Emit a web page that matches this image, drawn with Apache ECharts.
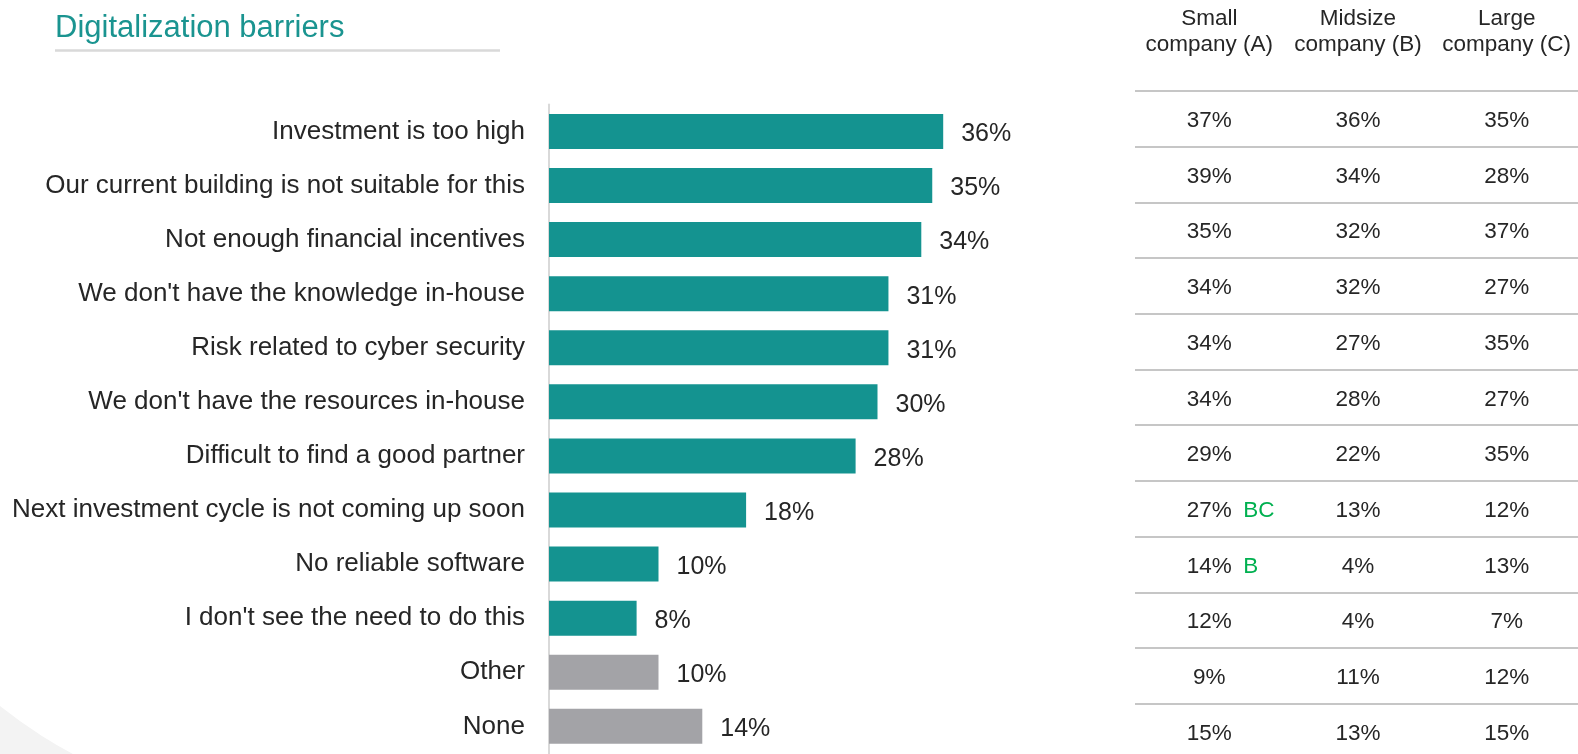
<!DOCTYPE html>
<html>
<head>
<meta charset="utf-8">
<script src="https://cdn.jsdelivr.net/npm/echarts@6/dist/echarts.min.js"></script>
<style>
  html, body { margin: 0; padding: 0; background: #ffffff; }
  #chart { width: 1578px; height: 754px; }
</style>
</head>
<body>
<div id="chart"></div>
<script>
// ---- Data ----
const chartTitle = 'Digitalization barriers';
const categories = [
  'Investment is too high',
  'Our current building is not suitable for this',
  'Not enough financial incentives',
  "We don't have the knowledge in-house",
  'Risk related to cyber security',
  "We don't have the resources in-house",
  'Difficult to find a good partner',
  'Next investment cycle is not coming up soon',
  'No reliable software',
  "I don't see the need to do this",
  'Other',
  'None'
];
const totalValues = [36, 35, 34, 31, 31, 30, 28, 18, 10, 8, 10, 14];
const greyCategories = ['Other', 'None'];
const columnHeaders = ['Small\ncompany (A)', 'Midsize\ncompany (B)', 'Large\ncompany (C)'];
const smallCompany = [37, 39, 35, 34, 34, 34, 29, 27, 14, 12, 9, 15];
const midsizeCompany = [36, 34, 32, 32, 27, 28, 22, 13, 4, 4, 11, 13];
const largeCompany = [35, 28, 37, 27, 35, 27, 35, 12, 13, 7, 12, 15];
const smallAnnotations = ['', '', '', '', '', '', '', 'BC', 'B', '', '', ''];

// ---- Build ----
const FONT = "'Liberation Sans', Arial, sans-serif";
const TEAL = '#149390';
const GREY = '#a3a3a7';
const TEXT = '#262626';

const columns = [smallCompany, midsizeCompany, largeCompany];
const tableData = [];
columns.forEach((col, ci) => col.forEach((v, ri) => tableData.push([ci, ri, v])));
const annotationData = [];
smallAnnotations.forEach((a, ri) => { if (a) annotationData.push([0, ri, a]); });

const chart = echarts.init(document.getElementById('chart'), null, { renderer: 'canvas' });

const option = {
  backgroundColor: '#ffffff',
  animation: false,
  textStyle: { fontFamily: FONT },
  title: {
    text: chartTitle,
    left: 55,
    top: 13,
    padding: 0,
    textStyle: { fontFamily: FONT, fontSize: 31, fontWeight: 'normal', color: '#1a9490' }
  },
  graphic: [
    {
      type: 'sector',
      silent: true,
      z: -10,
      shape: { cx: 300, cy: 330, r0: 481, r: 640, startAngle: 100 * Math.PI / 180, endAngle: 160 * Math.PI / 180 },
      style: { fill: '#f3f3f3' }
    },
    {
      type: 'line',
      silent: true,
      shape: { x1: 55, y1: 50.5, x2: 500, y2: 50.5 },
      style: { stroke: '#d9d9d9', lineWidth: 2.5 }
    }
  ],
  grid: [
    { left: 549, top: 104.4, width: 438, height: 649, outerBoundsMode: 'none', containLabel: false },
    { left: 1135, top: 91, width: 446, height: 668.4, outerBoundsMode: 'none', containLabel: false }
  ],
  xAxis: [
    { type: 'value', gridIndex: 0, min: 0, max: 40, show: false },
    {
      type: 'category', gridIndex: 1, position: 'top', data: columnHeaders,
      axisLine: { show: false }, axisTick: { show: false }, splitLine: { show: false },
      axisLabel: { interval: 0, margin: 33, fontSize: 22.5, lineHeight: 26, color: TEXT, fontFamily: FONT, align: 'center' }
    }
  ],
  yAxis: [
    {
      type: 'category', gridIndex: 0, data: categories, inverse: true,
      axisLine: { show: true, lineStyle: { color: '#d9d9d9', width: 2 } },
      axisTick: { show: false },
      splitLine: { show: false },
      axisLabel: { interval: 0, margin: 24, fontSize: 26, color: TEXT, fontFamily: FONT, padding: [0, 0, 8, 0] }
    },
    {
      type: 'category', gridIndex: 1, data: categories, inverse: true,
      axisLine: { show: false }, axisTick: { show: false }, axisLabel: { show: false },
      splitLine: { show: true, lineStyle: { color: '#c6c6c6', width: 2 } }
    }
  ],
  series: [
    {
      type: 'bar',
      xAxisIndex: 0, yAxisIndex: 0,
      data: totalValues,
      barWidth: 35,
      itemStyle: {
        color: (p) => greyCategories.indexOf(categories[p.dataIndex]) >= 0 ? GREY : TEAL
      },
      label: {
        show: true, position: 'right', distance: 18, offset: [0, 3],
        formatter: (p) => p.value + '%',
        fontSize: 25, color: TEXT, fontFamily: FONT
      }
    },
    {
      type: 'scatter',
      xAxisIndex: 1, yAxisIndex: 1,
      data: tableData,
      symbolSize: 0,
      silent: true,
      itemStyle: { opacity: 1 },
      label: {
        show: true, position: 'inside', offset: [0, 2],
        formatter: (p) => p.value[2] + '%',
        fontSize: 22.5, color: TEXT, opacity: 1, fontFamily: FONT
      }
    },
    {
      type: 'scatter',
      xAxisIndex: 1, yAxisIndex: 1,
      data: annotationData,
      symbolSize: 0,
      silent: true,
      itemStyle: { opacity: 1 },
      label: {
        show: true, position: 'right', distance: 34, offset: [0, 2],
        formatter: (p) => p.value[2],
        fontSize: 22.5, color: '#00b050', opacity: 1, fontFamily: FONT
      }
    }
  ]
};

chart.setOption(option);
</script>
</body>
</html>
